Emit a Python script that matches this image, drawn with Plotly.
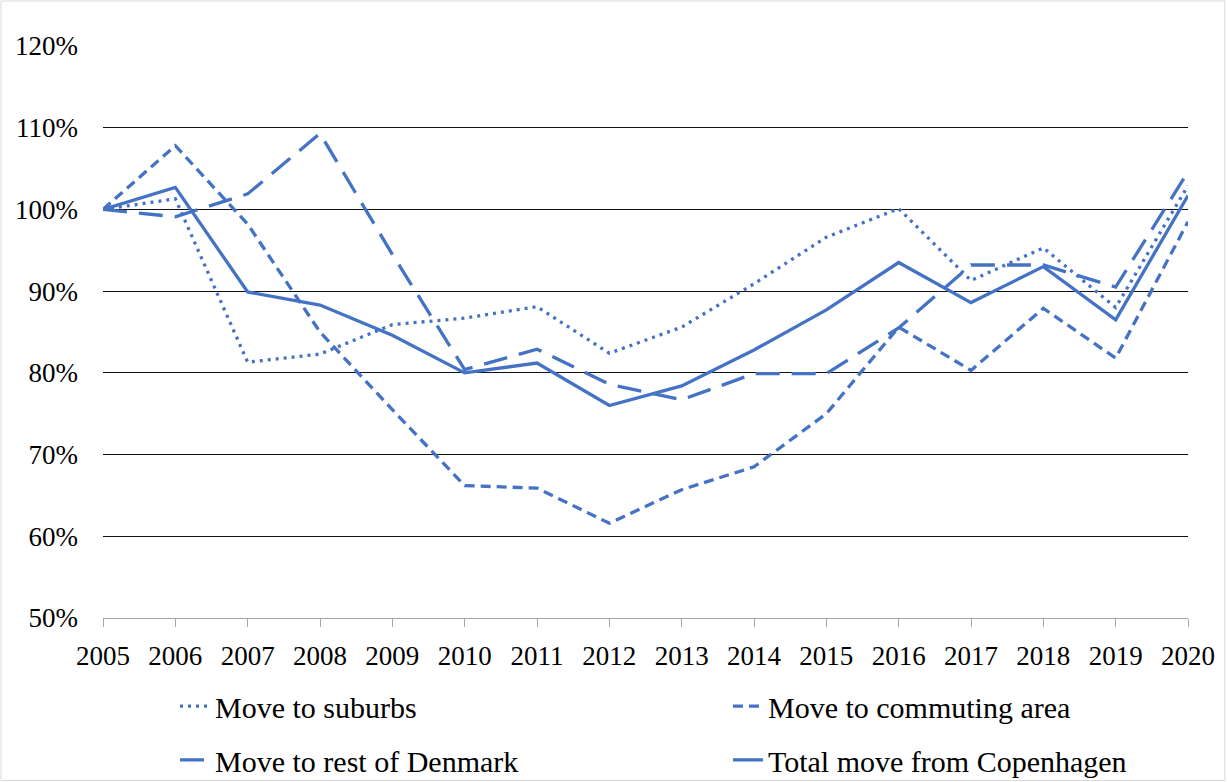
import plotly.graph_objects as go

years = list(range(2005, 2021))
suburbs = [100, 101.3, 81.3, 82.3, 85.9, 86.7, 88.1, 82.4, 85.6, 90.9, 96.6, 100.1, 91.3, 95.3, 88.0, 102.9]
commuting = [100, 107.8, 98.2, 85.0, 75.5, 66.2, 65.9, 61.6, 65.7, 68.5, 75.0, 85.6, 80.3, 87.9, 81.8, 98.5]
rest_dk = [100, 99.1, 101.9, 109.3, 94.5, 80.4, 82.9, 78.6, 76.7, 79.9, 79.9, 85.5, 93.2, 93.2, 90.5, 104.6]
total = [100, 102.7, 89.9, 88.3, 84.6, 80.0, 81.2, 76.0, 78.4, 82.8, 87.7, 93.5, 88.6, 93.0, 86.5, 101.7]

names = ["Move to suburbs", "Move to commuting area", "Move to rest of Denmark", "Total move from Copenhagen"]
series = [suburbs, commuting, rest_dk, total]
dashes = ["3px,5px", "10px,6px", "24px,12px", "solid"]
legends = ["legend", "legend2", "legend3", "legend4"]
legend_pos = [(0.0664, -0.154), (0.576, -0.154), (0.0664, -0.248), (0.576, -0.248)]

COLOR = "#4472C4"
FONT = "Liberation Serif"

fig = go.Figure()
for name, vals, dash, lg in zip(names, series, dashes, legends):
    fig.add_trace(go.Scatter(
        x=years, y=[v / 100 for v in vals], name=name, mode="lines",
        line=dict(color=COLOR, width=3.3, dash=dash), legend=lg,
    ))

legend_layout = {}
for lg, (lx, ly) in zip(legends, legend_pos):
    legend_layout[lg] = dict(
        x=lx, y=ly, orientation="h", xanchor="left", yanchor="middle",
        font=dict(family=FONT, size=30, color="black"),
        bgcolor="rgba(0,0,0,0)",
    )

fig.update_layout(
    width=1227, height=782,
    margin=dict(l=103, r=39, t=46, b=164, autoexpand=False),
    paper_bgcolor="white", plot_bgcolor="white",
    font=dict(family=FONT, size=27, color="black"),
    showlegend=True,
    **legend_layout,
    xaxis=dict(
        range=[2005, 2020], tickmode="linear", dtick=1, tick0=2005,
        showgrid=False, showline=True, linecolor="#a6a6a6", linewidth=1,
        ticks="outside", ticklen=8, tickcolor="#a6a6a6",
        ticklabelstandoff=6, zeroline=False,
        tickfont=dict(family=FONT, size=27, color="black"),
    ),
    yaxis=dict(
        range=[0.5, 1.2], tickmode="linear", dtick=0.1, tick0=0.5,
        tickformat=".0%", showgrid=True, gridcolor="#111111", gridwidth=1,
        zeroline=False, showline=False, ticks="", ticklabelstandoff=24,
        tickfont=dict(family=FONT, size=27, color="black"),
    ),
    shapes=[dict(
        type="rect", xref="paper", yref="paper",
        x0=-0.094, x1=1.034, y0=-0.284, y1=1.0787,
        line=dict(color="#d9d9d9", width=1), fillcolor="rgba(0,0,0,0)", layer="below",
    )],
)

fig.write_html("out.html")
